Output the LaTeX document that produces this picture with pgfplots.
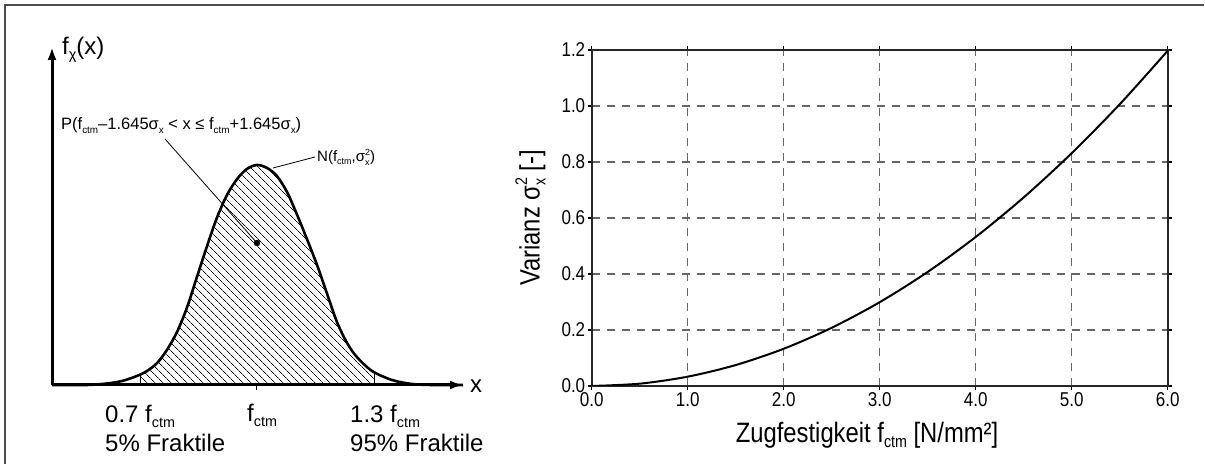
\documentclass[border=0pt]{standalone}
\usepackage{fontspec}
\setmainfont{Liberation Sans}
\newfontfamily\narrow[FakeStretch=0.85]{Liberation Sans}
\usepackage{pgfplots}
\pgfplotsset{compat=1.18}
\usetikzlibrary{patterns.meta,arrows.meta}
\newcommand\fs[1]{\fontsize{#1bp}{#1bp}\selectfont}
\newcommand\sub[1]{\raisebox{-0.35ex}{\scalebox{0.6}{#1}}}
\newcommand\subsup[2]{\makebox[0pt][l]{\raisebox{-0.4ex}{\scalebox{0.6}{#1}}}\raisebox{0.85ex}{\scalebox{0.6}{#2}}}
\begin{document}
\begin{tikzpicture}[x=1bp,y=1bp]
\useasboundingbox (0,0) rectangle (1205,464);
\draw[black!70, line width=1.5bp] (5,0) -- (5,459) -- (1204,459);

% ---------------- left: density sketch ----------------
\begin{axis}[at={(52bp,79bp)}, anchor=south west, scale only axis,
  width=411bp, height=338bp,
  xmin=0.4744, xmax=1.5282, ymin=0, ymax=3.38,
  axis lines*=left,
  axis line style={line width=3bp, -{Latex[length=13bp,width=9bp]}},
  xtick={1}, xticklabels={}, ytick=\empty,
  tick align=outside, major tick length=5bp,
  tick style={line width=1bp, black},
  clip=false]
\addplot[pattern={Lines[angle=-45,distance=6bp,line width=0.7bp]}, draw=none, smooth] coordinates {
 (0.700,0.105) (0.718,0.14) (0.744,0.22) (0.769,0.35) (0.795,0.53) (0.821,0.78)
 (0.846,1.08) (0.872,1.39) (0.897,1.67) (0.923,1.90) (0.949,2.06) (0.974,2.16)
 (1.000,2.20) (1.026,2.17) (1.051,2.09) (1.077,1.93) (1.103,1.70) (1.128,1.46)
 (1.154,1.20) (1.179,0.92) (1.205,0.63) (1.231,0.42) (1.256,0.28) (1.295,0.14)
 (1.300,0.13)} \closedcycle;
\addplot[smooth, line width=2.6bp] coordinates {
 (0.4744,0) (0.564,0) (0.615,0.015) (0.654,0.04) (0.692,0.09) (0.718,0.14)
 (0.744,0.22) (0.769,0.35) (0.795,0.53) (0.821,0.78) (0.846,1.08) (0.872,1.39)
 (0.897,1.67) (0.923,1.90) (0.949,2.06) (0.974,2.16) (1.000,2.20) (1.026,2.17)
 (1.051,2.09) (1.077,1.93) (1.103,1.70) (1.128,1.46) (1.154,1.20) (1.179,0.92)
 (1.205,0.63) (1.231,0.42) (1.256,0.28) (1.295,0.14) (1.346,0.05) (1.397,0.01)
 (1.449,0) (1.5282,0)};
\addplot[line width=0.8bp] coordinates {(0.7,0) (0.7,0.105)};
\addplot[line width=0.8bp] coordinates {(1.3,0) (1.3,0.13)};
\addplot[only marks, mark=*, mark size=3bp] coordinates {(1.0,1.42)};
\end{axis}

\draw[line width=0.8bp] (165,325) -- (257,221);
\draw[line width=0.8bp] (315,307) -- (273,296);
\node[anchor=base west, font=\fs{24}, inner sep=0] at (62,409) {f\sub{χ}(x)};
\node[anchor=base west, font=\fs{16.5}, inner sep=0] at (61,334)
  {P(f\sub{ctm}–1.645σ\sub{x} < x ≤ f\sub{ctm}+1.645σ\sub{x})};
\node[anchor=base west, font=\fs{15}, inner sep=0] at (317,302) {N(f\sub{ctm},σ\subsup{x}{2})};
\node[anchor=base west, font=\fs{24}, inner sep=0] at (470,71) {x};
\node[anchor=base west, font=\fs{24}, inner sep=0] at (105,41) {0.7 f\sub{ctm}};
\node[anchor=base west, font=\fs{24}, inner sep=0] at (105,12) {5\% Fraktile};
\node[anchor=base west, font=\fs{24}, inner sep=0] at (247,42) {f\sub{ctm}};
\node[anchor=base west, font=\fs{24}, inner sep=0] at (350,41) {1.3 f\sub{ctm}};
\node[anchor=base west, font=\fs{24}, inner sep=0] at (350,12) {95\% Fraktile};

% ---------------- right: variance ----------------
\begin{axis}[at={(591.7bp,78bp)}, anchor=south west, scale only axis,
  width=576bp, height=336bp,
  xmin=0, xmax=6, ymin=0, ymax=1.2,
  xtick={0,1,2,3,4,5,6}, ytick={0,0.2,0.4,0.6,0.8,1.0,1.2},
  grid=major,
  grid style={dash pattern=on 8bp off 7bp, black!60, line width=1.1bp},
  axis line style={line width=1.6bp, black!85},
  tick align=outside, major tick length=4bp,
  tick style={line width=1.2bp, black},
  /pgf/number format/assume math mode=true,
  /pgf/number format/fixed, /pgf/number format/fixed zerofill,
  /pgf/number format/precision=1,
  ticklabel style={font=\narrow\fs{20}},
  xticklabel style={yshift=1bp},
  yticklabel style={xshift=1bp},
  label style={font=\narrow\fs{28}},
  xlabel={Zugfestigkeit f\sub{ctm} [N/mm²]},
  xlabel style={at={(axis description cs:0.478,-0.1667)}, anchor=base},
  ylabel={Varianz σ\subsup{x}{2} [-]},
  ylabel style={at={(axis description cs:-0.0903,0.5)}, anchor=base},
  ]
\addplot[smooth, line width=2bp, black] coordinates {
 (0,0) (0.5,0.0083) (1,0.0333) (1.5,0.0748) (2,0.1330) (2.5,0.2079)
 (3,0.2993) (3.5,0.4074) (4,0.5322) (4.5,0.6735) (5,0.8315) (5.5,1.0061)
 (6,1.1973)};
\end{axis}
\end{tikzpicture}
\end{document}
